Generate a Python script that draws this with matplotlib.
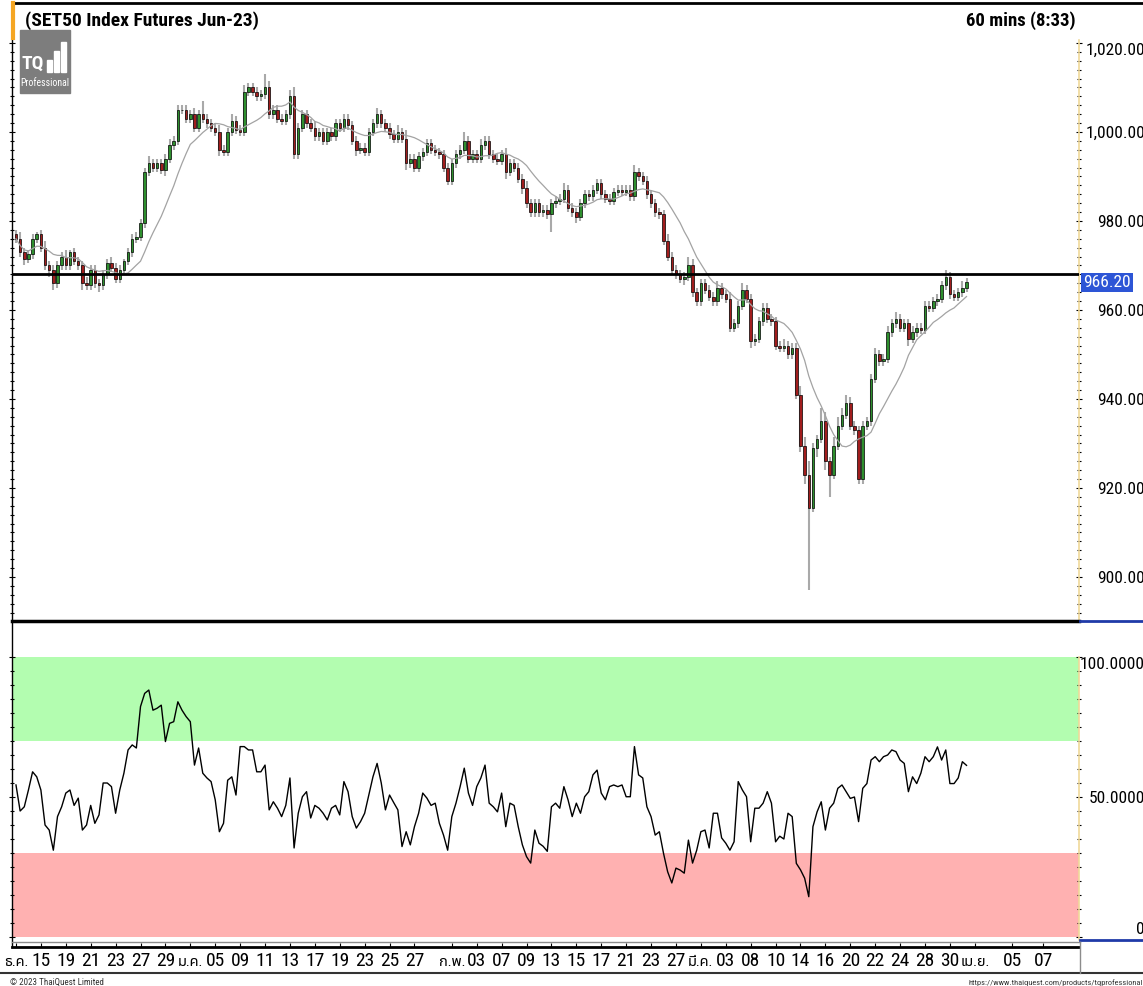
import numpy as np
import pandas as pd
import matplotlib
matplotlib.use("Agg")
import matplotlib.pyplot as plt
from matplotlib import font_manager, ft2font
from matplotlib.lines import Line2D
from matplotlib.patches import Rectangle
from matplotlib.ticker import MultipleLocator, FixedLocator
import matplotlib.transforms as mtransforms

# ---- data (hourly candles) ----
first_open = 977.0
close = [
    976, 973, 971.5, 972.5, 976, 977, 974, 970, 969, 966,
    970, 972, 970, 973, 971, 970, 966, 965.5, 969, 966,
    965.5, 968, 970.5, 969.5, 967, 969, 971, 973, 976, 976.5,
    979.5, 991, 993, 992, 993, 991.5, 994, 997, 998, 1005,
    1005, 1003, 1004, 1001, 1004, 1003, 1002, 1001, 1000, 996,
    995.5, 1000, 1002.5, 1000.5, 1000, 1009, 1010, 1009, 1008, 1008.5,
    1010, 1004, 1005, 1003, 1002.5, 1004, 1008, 995, 1001, 1004,
    1002, 1001, 999, 1000, 998, 1000, 999, 1002, 1001, 1003,
    1001.5, 998, 996, 996.5, 995.5, 1000, 1002, 1004, 1002, 1001,
    999.5, 998.5, 1000, 998.5, 993, 994, 992, 994.5, 995.5, 997.5,
    996, 995.5, 995, 992, 989, 993, 995, 996, 998, 994,
    995, 994, 997, 998, 995, 994, 993.5, 995, 991, 993,
    992, 989.5, 987.5, 984, 982, 984, 982, 982.5, 981.5, 984,
    984.5, 985, 987, 983, 982, 981, 984, 986, 985.5, 987,
    988.5, 986, 985, 984.5, 986.5, 987, 986.5, 987, 985.5, 991,
    990, 989, 986, 984, 982, 981.5, 975.5, 972, 969, 968,
    967, 967.5, 970, 964, 962, 966, 964.5, 963, 962, 965,
    963.5, 962.5, 956, 957, 961, 964.5, 962.5, 953, 953.5, 957.5,
    960.5, 958, 957.5, 952, 951.5, 952, 950, 951.5, 941, 929.5,
    923, 915.5, 929, 931, 935, 926, 923, 929.5, 934, 936.5,
    939, 934, 933, 922, 934, 935, 944.5, 950, 948.5, 949,
    955, 957, 958, 956, 957, 953.5, 955, 956, 955.5, 961,
    960.5, 962, 962.5, 965.5, 967.5, 963.5, 963, 964, 965, 966.2,
]
wick_up = [
    1, 1.5, 1, 1, 1, 0.5, 1, 1.5, 1, 1,
    1, 1, 1.5, 0.5, 1, 1, 1, 1.5, 1, 1,
    1, 1, 1, 1.5, 1, 1, 0.5, 1, 1, 1,
    1, 1, 1.5, 1, 1, 1, 1, 1.5, 1, 1,
    1, 1, 1, 1.5, 1, 3, 1, 1, 1, 1.5,
    1, 1, 1.5, 1, 1, 1.5, 1, 1, 1, 1,
    3, 1.5, 1, 1, 1, 1, 1.5, 2, 1, 1,
    1, 1, 1.5, 1, 1, 1, 1, 1, 1, 1,
    1, 1, 1, 1, 1, 1, 1, 1.5, 1, 1,
    1, 1, 1.5, 1, 2, 1, 1, 1, 1, 1,
    1, 1, 1, 1, 1, 1, 1, 1, 2, 1,
    1, 1, 1.5, 1, 1, 1, 1, 1, 1.5, 1,
    1, 1, 1, 1.5, 1, 1, 1, 1, 1, 1,
    1, 1, 1.5, 1, 1, 1, 1, 1, 1, 1,
    1, 1, 1, 1, 1, 1, 1, 1, 1, 1.5,
    1, 1, 1, 1, 1, 1, 1, 1.5, 1, 1,
    1, 1, 2, 1.5, 1, 1, 1, 1, 1, 1.5,
    1, 1, 1.5, 1, 1, 1.5, 1, 1, 1, 1,
    1, 1, 1, 1, 1, 1.5, 1, 1, 1, 2,
    2, 3, 1, 1, 3, 2, 1, 2, 2, 1.5,
    2, 1.5, 1, 1, 1, 1, 1, 1.5, 1, 1,
    1.5, 1, 1.5, 1, 1, 1, 1.5, 1, 1, 1,
    1, 1, 1, 1, 1.5, 1, 1, 1, 1.5, 1,
]
wick_dn = [
    1, 1, 1.5, 1, 1, 1, 1, 1, 1.5, 1.5,
    1, 1, 1, 1, 1, 1, 1.5, 1, 1, 1,
    1.5, 1, 1, 1, 1, 1, 1, 1, 1, 1,
    1, 1, 1, 1, 1, 1, 1.5, 1, 1, 1,
    1, 1, 1, 1, 1, 1, 1, 1, 1, 1.5,
    1, 1, 1, 1, 1, 1, 1, 1, 1, 1,
    1, 1, 1, 1, 1, 1, 1, 1, 1, 1,
    1, 1, 1, 1, 1, 1, 1, 1, 1, 1,
    1, 1, 1.5, 1, 1, 1, 1, 1, 1, 1,
    1, 1, 1, 1, 1.5, 1, 1, 1, 1, 1,
    1, 1, 1, 1, 1, 1, 1, 1, 1, 1,
    1, 1, 1, 1, 1, 1, 1, 1, 1.5, 1,
    1, 1, 1.5, 1, 1, 1, 1, 1, 1, 4,
    1, 1, 1, 1, 1, 1.5, 1, 1, 1, 1,
    1, 1, 1, 1, 1, 1, 1, 1, 1, 1,
    1, 1, 1, 1, 1, 1, 1, 1, 1, 1,
    1, 1.5, 1, 1, 1, 1, 1, 1, 1, 1,
    1, 1, 1, 1, 1, 1, 1, 1.5, 1, 1,
    1, 1, 1, 1, 1, 1, 1, 1, 1, 1.5,
    2, 18.5, 1, 2, 1, 2, 5, 1, 1, 1,
    1, 1, 1, 1, 1, 1, 1, 1, 1, 1,
    1, 1, 1, 1, 1, 1.5, 1, 1, 1, 1,
    1, 1, 1, 1, 1, 1, 1, 1, 1, 1,
]
rsi = [
    54.3, 45, 46.5, 52.5, 59, 57.2, 52.5, 40, 38.2, 31,
    43, 46.5, 51.4, 52.5, 47, 49.6, 38.2, 40, 47, 40.6,
    43.6, 55, 55, 53.7, 44.2, 52.5, 58.5, 66.8, 68.6, 67.5,
    82.3, 87, 88.2, 81, 81.7, 82.8, 69.8, 76.3, 76.9, 84,
    81, 78.7, 76.9, 61.4, 67.5, 58.5, 56.8, 55.5, 49, 37.6,
    40.6, 56, 57.2, 50.7, 68, 68, 66.8, 66.8, 59, 59,
    61.4, 45.4, 48.3, 46, 43, 47, 56.8, 31.8, 44.2, 50.1,
    51.9, 42.5, 47, 46, 44.2, 41.8, 46, 47, 43.6, 55.5,
    51.9, 43, 38.9, 41.2, 44.2, 50.7, 57.2, 62, 55, 45.4,
    50.7, 48, 45.4, 32.3, 37.6, 32.9, 39.4, 44.2, 51.4, 49.6,
    47, 47.8, 40.6, 36.4, 31, 43, 47.8, 53.7, 60.3, 51.4,
    47, 53.7, 56.8, 61.4, 47.8, 46.5, 44.7, 51.4, 39.4, 47.8,
    47, 39.4, 32.9, 28.7, 26.4, 38.2, 33.5, 32.4, 30.6, 46.5,
    47.8, 46, 53.7, 49, 43, 47.8, 44.2, 50.1, 51.9, 57.9,
    59.6, 51.4, 49, 53.7, 54.3, 53.7, 54.3, 50.1, 50.1, 68,
    57.9, 56.8, 46.5, 43, 36.4, 37.6, 29.9, 23.3, 19.3, 24.6,
    23.9, 22.8, 34.6, 26.4, 31, 37.6, 38.2, 31.8, 44.2, 44.2,
    35.4, 33.5, 31, 34, 55.5, 52.5, 50.1, 34, 46, 46,
    47.8, 51.9, 47.8, 34, 36, 35, 44.2, 43, 26.3, 24,
    21, 14.4, 39.4, 44.7, 48.3, 38.2, 46, 47.8, 53.1, 54.3,
    51.9, 49.5, 50, 41.2, 53.1, 54.8, 63.2, 64.4, 62.6, 64.4,
    65, 66.8, 66.2, 63.2, 62, 51.9, 57.2, 54.8, 58.5, 64.4,
    62.6, 64.4, 67.9, 63.2, 66.8, 54.8, 54.8, 56.8, 62.6, 61.3,
]
ma_window = 12
support_level = 968.0
last_price = 966.20
rsi_upper, rsi_lower = 70, 30

date_labels = ["ธ.ค.", "15", "19", "21", "23", "27", "29",
               "ม.ค.", "05", "09", "11", "13", "17", "19", "23", "25", "27",
               "ก.พ.", "03", "07", "09", "13", "15", "17", "21", "23", "27",
               "มี.ค.", "03", "08", "10", "14", "16", "20", "22", "24", "28", "30",
               "เม.ย.", "05", "07"]
date_days = [0, 2, 4, 6, 8, 10, 12,
             14, 16, 18, 20, 22, 24, 26, 28, 30, 32,
             35, 37, 39, 41, 43, 45, 47, 49, 51, 53,
             55, 57, 59, 61, 63, 65, 67, 69, 71, 73, 75,
             77, 80, 82.5]
bars_per_day = 3

price_ticks = [900, 920, 940, 960, 980, 1000, 1020]
rsi_ticks = [0, 50, 100]
rsi_tick_labels = ["0", "50.0000", "100.0000"]


def thai_font():
    names = {f.name for f in font_manager.fontManager.ttflist}
    for n in ("Noto Sans Thai", "Sarabun", "Prompt", "Kanit"):
        if n in names:
            return n
    for fe in font_manager.fontManager.ttflist:
        try:
            if 0x0E18 in ft2font.FT2Font(fe.fname).get_charmap():
                return fe.name
        except Exception:
            pass
    return "DejaVu Sans"


NARROW = ["Liberation Sans Narrow", "Arial Narrow", "Roboto Condensed",
          "PT Sans Narrow", "Archivo Narrow", "Liberation Sans", "DejaVu Sans"]
DATEFONT = NARROW[:-2] + [thai_font(), "DejaVu Sans"]

W, H = 1143, 986


def box(l, t, r, b):
    return [l / W, 1 - b / H, (r - l) / W, (b - t) / H]


def fline(x0, y0, x1, y1, **kw):
    fig.add_artist(Line2D([x0 / W, x1 / W], [1 - y0 / H, 1 - y1 / H], **kw))


closes = np.array(close, dtype=float)
opens = np.r_[first_open, closes[:-1]]
highs = np.maximum(opens, closes) + np.array(wick_up)
lows = np.minimum(opens, closes) - np.array(wick_dn)
ma = pd.Series(closes).rolling(ma_window, min_periods=1).mean()
x = np.arange(len(closes))

fig = plt.figure(figsize=(W / 100, H / 100), dpi=100)

ax1 = fig.add_axes(box(12, 40, 1079, 621))
ax2 = fig.add_axes(box(12, 657, 1079, 940), sharex=ax1)
ax3 = fig.add_axes(box(12, 947, 1079, 973), sharex=ax1)
ax1.set_xlim(-0.96, 256.1)

# price panel
ax1.vlines(x, lows, highs, color="#a9a9a9", lw=1.5, zorder=2)
up = closes >= opens
dn = ~up
ax1.bar(x[up], closes[up] - opens[up], bottom=opens[up], width=0.6,
        color="#2e8f2e", edgecolor="black", lw=0.5, zorder=3)
ax1.bar(x[dn], closes[dn] - opens[dn], bottom=opens[dn], width=0.6,
        color="#a11d1d", edgecolor="black", lw=0.5, zorder=3)
ax1.plot(x, ma, color="#a3a3a3", lw=0.9, zorder=4)
ax1.axhline(support_level, color="black", lw=2, zorder=5)
ax1.set_ylim(890.1, 1020.67)

ax1.yaxis.set_minor_locator(MultipleLocator(2))
ax1.set_yticks(price_ticks, [f"{v:,.2f}" for v in price_ticks])

# rsi panel
ax2.axhspan(rsi_upper, 100, color="#b3fdb0", lw=0, zorder=0)
ax2.axhspan(0, rsi_lower, color="#ffb1b1", lw=0, zorder=0)
ax2.plot(x, rsi, color="black", lw=1.0, zorder=3)
ax2.set_ylim(-1.07, 100)
ax2.yaxis.set_minor_locator(MultipleLocator(5))
ax2.set_yticks(rsi_ticks, rsi_tick_labels)

for ax in (ax1, ax2):
    ax.tick_params(axis="x", which="both", bottom=False, top=False,
                   labelbottom=False)
    ax.tick_params(axis="y", which="both", left=True, right=True,
                   labelleft=False, labelright=True, direction="inout",
                   color="black", width=0.8)
    ax.tick_params(axis="y", which="major", length=4, pad=45.5,
                   labelsize=12.5)
    ax.tick_params(axis="y", which="minor", length=2.5)
    for lab in ax.get_yticklabels():
        lab.set_horizontalalignment("right")
        lab.set_fontfamily(NARROW)
    for s in ("top", "left"):
        ax.spines[s].set_visible(False)
    ax.spines["right"].set_color("#f0d99a")
    ax.spines["right"].set_linewidth(1.2)
    ax.patch.set_alpha(0)

ax1.spines["bottom"].set_linewidth(2.5)
ax2.spines["bottom"].set_visible(False)
ax1.get_yticklabels()[-1].set_verticalalignment("top")
ax2.get_yticklabels()[-1].set_verticalalignment("top")
ax2.get_yticklabels()[0].set_verticalalignment("bottom")

# last price tag
tr = mtransforms.blended_transform_factory(ax1.transAxes, ax1.transData)
ax1.text(1.0 + 4 / 1067, last_price, f"{last_price:.2f}", transform=tr,
         ha="left", va="center", color="white", fontsize=12.5,
         family=NARROW, clip_on=False, zorder=10,
         bbox=dict(boxstyle="square,pad=0.12", fc="#2d55d6", ec="none"))

# date strip
for s in ("left", "right", "bottom"):
    ax3.spines[s].set_visible(False)
ax3.spines["top"].set_linewidth(2)
ax3.set_yticks([])
ax3.patch.set_alpha(0)
pos = [d * bars_per_day for d in date_days]
ax3.xaxis.set_major_locator(FixedLocator(pos))
ax3.tick_params(axis="x", which="both", top=True, bottom=False,
                labelbottom=False, direction="out", length=3, color="black")
strip_tr = mtransforms.blended_transform_factory(ax3.transData, ax3.transAxes)
for p, lab in zip(pos, date_labels):
    thai = not lab.isdigit()
    ax3.text(p, 0.42 if thai else 0.45, lab, transform=strip_tr,
             ha="center", va="center", fontsize=10.5 if thai else 14,
             family=DATEFONT, clip_on=False)

# frame lines
fline(12, 3, 1143, 3, color="black", lw=2)
fline(12, 3, 12, 947, color="black", lw=1)
fline(13, 3, 13, 38, color="#f5a623", lw=3)
fline(1080, 621, 1143, 621, color="#1f3aa8", lw=2)
fline(1080, 940, 1143, 940, color="#1f3aa8", lw=2)
fline(12, 942, 1080, 942, color="#8c8c8c", lw=1)
fline(0, 973, 1143, 973, color="#333333", lw=1.5)
fline(1080, 942, 1080, 973, color="#8c8c8c", lw=1)

# logo
fig.add_artist(Rectangle((20 / W, 1 - 93 / H), 50 / W, 63 / H,
                         color="#7d7d7d", zorder=1))
fig.text(22 / W, 1 - 64 / H, "TQ", color="white", fontsize=14,
         fontweight="bold", family=NARROW, va="center", zorder=2)
for bx, btop in ((47, 60), (54, 51), (61, 42)):
    fig.add_artist(Rectangle((bx / W, 1 - 72 / H), 5 / W, (72 - btop) / H,
                             color="white", zorder=2))
fig.text(45 / W, 1 - 83 / H, "Professional", color="white", fontsize=7,
         family=NARROW, ha="center", va="center", zorder=2)

# titles
fig.text(25 / W, 1 - 21 / H, "(SET50 Index Futures Jun-23)", fontsize=14,
         fontweight="bold", family=NARROW, va="center", zorder=5)
fig.text(1076 / W, 1 - 21 / H, "60 mins (8:33)", fontsize=13.5,
         fontweight="bold", family=NARROW, va="center", ha="right")

# footer
fig.text(10 / W, 1 - 982 / H, "© 2023 ThaiQuest Limited", fontsize=6.5,
         family=NARROW, va="center", color="#333333")
fig.text(1143 / W, 1 - 983 / H,
         "https://www.thaiquest.com/products/tqprofessional", fontsize=6,
         family=NARROW, va="center", ha="right", color="#333333")

fig.savefig("out.png", dpi=100)
